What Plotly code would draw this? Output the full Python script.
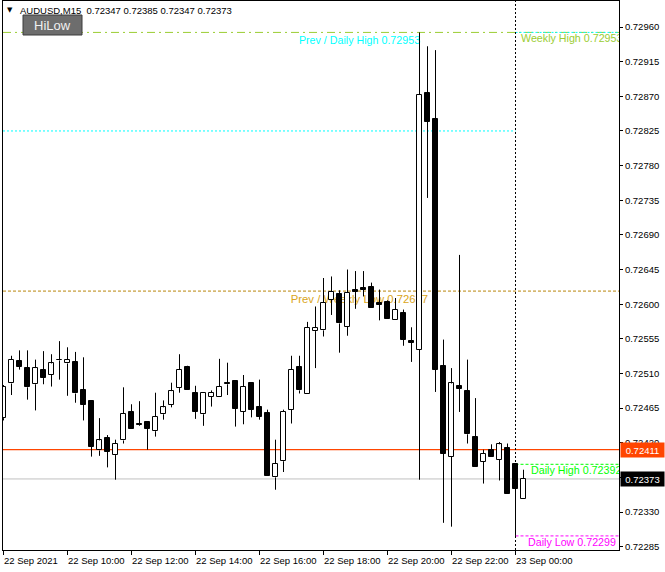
import plotly.graph_objects as go

# AUDUSD M15, 22 Sep 2021 08:00 -> 23 Sep 00:15 (bar index 0..65)
opens = [
    0.72452, 0.72497, 0.72526, 0.72517, 0.72496, 0.72515, 0.72508, 0.72527, 0.72523, 0.72525,
    0.72489, 0.72474, 0.72410, 0.72426, 0.72404, 0.72423, 0.72460, 0.72444, 0.72447, 0.72435,
    0.72457, 0.72469, 0.72491, 0.72518, 0.72485, 0.72457, 0.72480, 0.72480, 0.72498, 0.72500,
    0.72460, 0.72498, 0.72466, 0.72459, 0.72375, 0.72396, 0.72463, 0.72518, 0.72483, 0.72565,
    0.72566, 0.72606, 0.72613, 0.72571, 0.72619, 0.72621, 0.72622, 0.72601, 0.72603, 0.72579,
    0.72589, 0.72552, 0.72541, 0.72874, 0.72841, 0.72520, 0.72402, 0.72494, 0.72487, 0.72427,
    0.72395, 0.72410, 0.72398, 0.72413, 0.72392, 0.72347,
]
highs = [
    0.72495, 0.72533, 0.72540, 0.72540, 0.72528, 0.72539, 0.72535, 0.72552, 0.72544, 0.72538,
    0.72531, 0.72475, 0.72452, 0.72430, 0.72424, 0.72492, 0.72470, 0.72474, 0.72447, 0.72485,
    0.72475, 0.72498, 0.72535, 0.72520, 0.72494, 0.72484, 0.72488, 0.72529, 0.72524, 0.72500,
    0.72508, 0.72498, 0.72502, 0.72463, 0.72424, 0.72463, 0.72533, 0.72533, 0.72577, 0.72597,
    0.72634, 0.72636, 0.72618, 0.72645, 0.72643, 0.72643, 0.72628, 0.72619, 0.72605, 0.72608,
    0.72593, 0.72570, 0.72953, 0.72935, 0.72930, 0.72554, 0.72517, 0.72664, 0.72528, 0.72478,
    0.72411, 0.72418, 0.72421, 0.72419, 0.72392, 0.72385,
]
lows = [
    0.72449, 0.72482, 0.72515, 0.72476, 0.72462, 0.72496, 0.72493, 0.72502, 0.72481, 0.72472,
    0.72449, 0.72402, 0.72403, 0.72388, 0.72372, 0.72419, 0.72438, 0.72442, 0.72411, 0.72428,
    0.72450, 0.72466, 0.72485, 0.72489, 0.72451, 0.72442, 0.72467, 0.72480, 0.72482, 0.72441,
    0.72444, 0.72453, 0.72450, 0.72377, 0.72359, 0.72382, 0.72445, 0.72484, 0.72483, 0.72517,
    0.72558, 0.72586, 0.72537, 0.72559, 0.72594, 0.72610, 0.72595, 0.72579, 0.72581, 0.72579,
    0.72546, 0.72525, 0.72372, 0.72738, 0.72486, 0.72316, 0.72311, 0.72460, 0.72419, 0.72389,
    0.72367, 0.72401, 0.72371, 0.72354, 0.72299, 0.72347,
]
closes = [
    0.72493, 0.72528, 0.72519, 0.72492, 0.72517, 0.72504, 0.72523, 0.72528, 0.72528, 0.72484,
    0.72469, 0.72415, 0.72423, 0.72408, 0.72419, 0.72458, 0.72438, 0.72443, 0.72438, 0.72454,
    0.72466, 0.72487, 0.72515, 0.72489, 0.72460, 0.72484, 0.72485, 0.72493, 0.72496, 0.72464,
    0.72493, 0.72463, 0.72454, 0.72377, 0.72393, 0.72460, 0.72515, 0.72488, 0.72569, 0.72569,
    0.72602, 0.72616, 0.72575, 0.72615, 0.72616, 0.72619, 0.72595, 0.72599, 0.72581, 0.72593,
    0.72554, 0.72550, 0.72872, 0.72837, 0.72515, 0.72406, 0.72497, 0.72490, 0.72431, 0.72389,
    0.72406, 0.72401, 0.72418, 0.72354, 0.72360, 0.72373,
]

x_tick_index = [0, 8, 16, 24, 32, 40, 48, 56, 64]
x_tick_text = [
    "22 Sep 2021", "22 Sep 10:00", "22 Sep 12:00", "22 Sep 14:00", "22 Sep 16:00",
    "22 Sep 18:00", "22 Sep 20:00", "22 Sep 22:00", "23 Sep 00:00",
]
y_tick_vals = [
    0.72285, 0.72330, 0.72375, 0.72420, 0.72465, 0.72510, 0.72555, 0.72600,
    0.72645, 0.72690, 0.72735, 0.72780, 0.72825, 0.72870, 0.72915, 0.72960,
]

day_start = 64          # bar index of 23 Sep 00:00
weekly_high = 0.72953
prev_daily_high = 0.72953
old_daily_high = 0.72825
weekly_low = 0.72617
daily_high = 0.72392
daily_low = 0.72299
open_level = 0.72411
bid = 0.72373

FONT = "Liberation Sans"
X_RANGE = [-0.0625, 76.9375]
Y_RANGE = [0.722807, 0.729938]

# plot area in pixels: x 3..619, y 1..550
def px_x(p):
    return (p - 3) / 616


def px_y(p):
    return (550 - p) / 549


idx = list(range(len(opens)))
bottoms = [min(o, c) for o, c in zip(opens, closes)]
heights = [abs(c - o) for o, c in zip(opens, closes)]
body_colors = ["white" if c >= o else "black" for o, c in zip(opens, closes)]

wick_x, wick_y = [], []
for i, o, h, l, c in zip(idx, opens, highs, lows, closes):
    top, bot = max(o, c), min(o, c)
    wick_x += [i, i, None, i, i, None]
    wick_y += [h, top, None, bot, l, None]

fig = go.Figure()
fig.add_trace(go.Bar(
    x=idx, y=heights, base=bottoms, width=0.6,
    marker=dict(color=body_colors, line=dict(color="black", width=1)),
    hoverinfo="skip",
))
fig.add_trace(go.Scatter(
    x=wick_x, y=wick_y, mode="lines",
    line=dict(color="black", width=1), hoverinfo="skip",
))

# clipped labels on the right side
right_labels = [
    ("Weekly High 0.72953", 64.69, 0.72944, "#9ACD32"),
    ("Daily High 0.72392", 65.94, 0.72383, "#00FF00"),
    ("Daily Low 0.72299", 65.56, 0.72290, "#FF00FF"),
]
for text, xx, yy, col in right_labels:
    fig.add_trace(go.Scatter(
        x=[xx], y=[yy], mode="text", text=[text], textposition="middle right",
        textfont=dict(family=FONT, size=10.7, color=col), cliponaxis=True,
        hoverinfo="skip",
    ))

x_end = X_RANGE[1]
shapes = [
    # levels
    dict(type="line", xref="x", yref="y", x0=day_start, x1=x_end, y0=prev_daily_high, y1=prev_daily_high,
         line=dict(color="#00FFFF", width=1, dash="2px,2px"), layer="below"),
    dict(type="line", xref="paper", yref="y", x0=0, x1=1, y0=weekly_high, y1=weekly_high,
         line=dict(color="#9ACD32", width=1, dash="8px,4px,2px,4px"), layer="below"),
    dict(type="line", xref="x", yref="y", x0=X_RANGE[0], x1=day_start, y0=old_daily_high, y1=old_daily_high,
         line=dict(color="#00FFFF", width=1, dash="2px,2px"), layer="below"),
    dict(type="line", xref="paper", yref="y", x0=0, x1=1, y0=weekly_low, y1=weekly_low,
         line=dict(color="#B8860B", width=1, dash="3px,2px"), layer="below"),
    dict(type="line", xref="paper", yref="y", x0=0, x1=1, y0=open_level, y1=open_level,
         line=dict(color="#FF4500", width=1.3), layer="below"),
    dict(type="line", xref="paper", yref="y", x0=0, x1=1, y0=bid, y1=bid,
         line=dict(color="#C0C0C0", width=1), layer="below"),
    dict(type="line", xref="x", yref="y", x0=day_start, x1=x_end, y0=daily_high, y1=daily_high,
         line=dict(color="#00FF00", width=1, dash="3px,2px"), layer="below"),
    dict(type="line", xref="x", yref="y", x0=day_start, x1=x_end, y0=daily_low, y1=daily_low,
         line=dict(color="#FF00FF", width=1, dash="3px,2px"), layer="below"),
    # day separator
    dict(type="line", xref="x", yref="paper", x0=day_start, x1=day_start, y0=0, y1=1,
         line=dict(color="black", width=1, dash="2px,2px"), layer="above"),
    # labels drawn under the candles
    dict(type="line", xref="x", yref="y", x0=36, x1=52.2, y0=prev_daily_high, y1=prev_daily_high,
         line=dict(color="rgba(0,0,0,0)", width=1), layer="below",
         label=dict(text="Prev / Daily High 0.72953", textposition="end", xanchor="right",
                    yanchor="top", textangle=0, padding=1,
                    font=dict(family=FONT, size=10.7, color="#00FFFF"))),
    dict(type="line", xref="x", yref="y", x0=36, x1=53.2, y0=weekly_low, y1=weekly_low,
         line=dict(color="rgba(0,0,0,0)", width=1), layer="below",
         label=dict(text="Prev / Weekly Low 0.72617", textposition="end", xanchor="right",
                    yanchor="top", textangle=0, padding=1,
                    font=dict(family=FONT, size=11.3, color="#DAA520"))),
    # HiLow button
    dict(type="rect", xref="paper", yref="paper", x0=px_x(23), x1=px_x(82), y0=px_y(35), y1=px_y(15),
         fillcolor="#6D6D6D", line=dict(color="#3C3C3C", width=1), layer="above"),
]

annotations = [
    dict(text="▼", xref="paper", yref="paper", x=px_x(9.5), y=px_y(10), showarrow=False,
         xanchor="center", yanchor="middle", font=dict(family="DejaVu Sans", size=7, color="black")),
    dict(text="AUDUSD,M15\u00a0\u00a00.72347 0.72385 0.72347 0.72373", xref="paper", yref="paper",
         x=px_x(18), y=px_y(10), showarrow=False, xanchor="left", yanchor="middle",
         font=dict(family=FONT, size=9.5, color="black")),
    dict(text="HiLow", xref="paper", yref="paper", x=px_x(52.5), y=px_y(25.5), showarrow=False,
         xanchor="center", yanchor="middle", font=dict(family=FONT, size=13, color="#F0F0F0")),
    dict(text="0.72411", xref="paper", yref="y", x=1, y=open_level, xshift=1, showarrow=False,
         xanchor="left", yanchor="middle", bgcolor="#FF4500", width=41, height=12, borderpad=1,
         font=dict(family=FONT, size=9.5, color="white")),
    dict(text="0.72373", xref="paper", yref="y", x=1, y=bid, xshift=1, showarrow=False,
         xanchor="left", yanchor="middle", bgcolor="black", width=41, height=12, borderpad=1,
         font=dict(family=FONT, size=9.5, color="white")),
]
for ti, tt in zip(x_tick_index, x_tick_text):
    annotations.append(dict(
        text=tt, xref="x", yref="paper", x=ti, y=0, yshift=-3, xshift=-2, showarrow=False,
        xanchor="left", yanchor="top", font=dict(family=FONT, size=9.5, color="black"),
    ))

fig.update_layout(
    width=665, height=572,
    margin=dict(l=3, r=46, t=1, b=22),
    paper_bgcolor="white", plot_bgcolor="white",
    showlegend=False, bargap=0,
    shapes=shapes, annotations=annotations,
    xaxis=dict(
        range=X_RANGE, showgrid=False, zeroline=False, showline=True, linecolor="black",
        linewidth=1, mirror=True, ticks="outside", tickvals=x_tick_index, ticklen=4,
        tickcolor="black", showticklabels=False, fixedrange=True, automargin=False,
    ),
    yaxis=dict(
        range=Y_RANGE, side="right", showgrid=False, zeroline=False, showline=True,
        linecolor="black", linewidth=1, mirror=True, ticks="outside", ticklen=3,
        tickcolor="black", tickvals=y_tick_vals, tickformat=".5f",
        tickfont=dict(family=FONT, size=9.5, color="black"), fixedrange=True,
        automargin=False,
    ),
)

# the page's default body margin would push the chart 8px off the window
fig.write_html(
    "out.html",
    config={"displayModeBar": False},
    post_script="document.body.style.margin = '0';",
)
